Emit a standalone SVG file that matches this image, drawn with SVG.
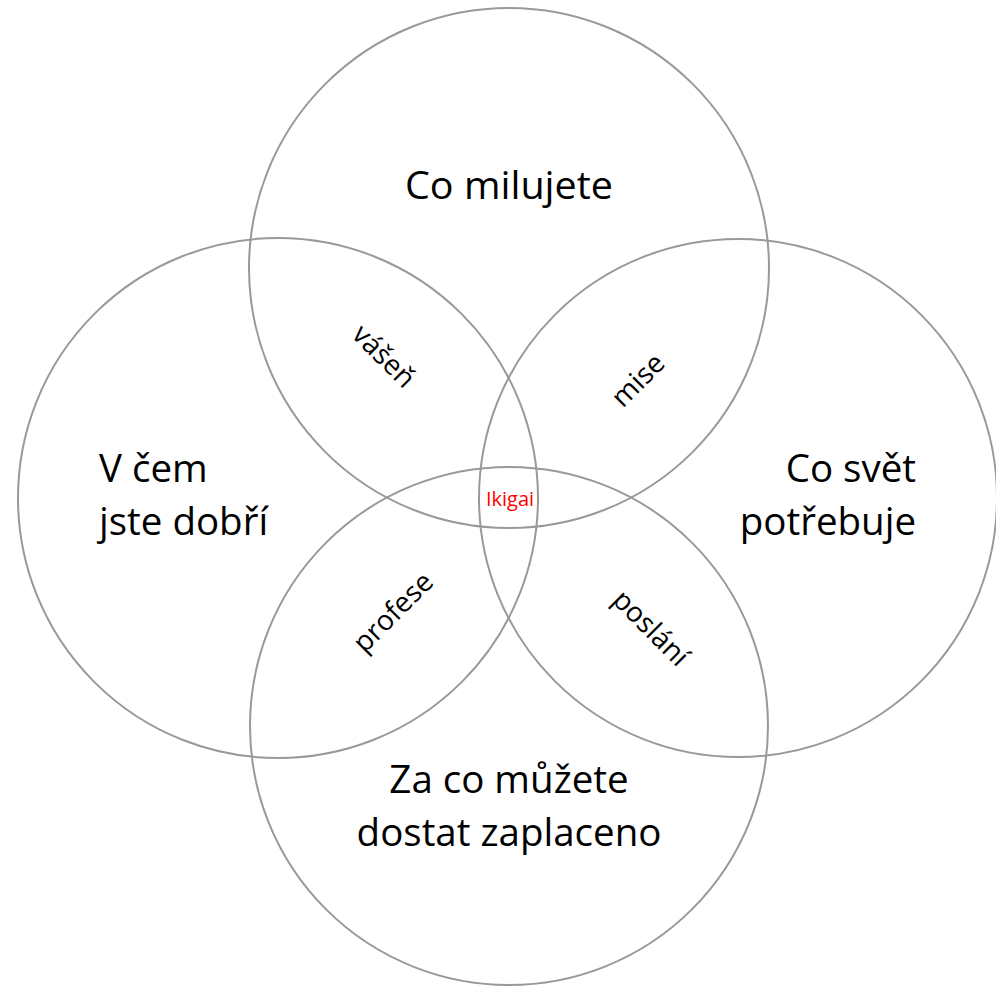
<svg xmlns="http://www.w3.org/2000/svg" width="996" height="986" viewBox="0 0 996 986">
<style>
.c{fill:none;stroke:#999;stroke-width:2}
.t{font-family:"Open Sans","Liberation Sans",sans-serif;font-size:38.5px;fill:#000}
.s{font-family:"Open Sans","Liberation Sans",sans-serif;font-size:28px;fill:#000;text-anchor:middle;dominant-baseline:central}
.r{font-family:"Open Sans","Liberation Sans",sans-serif;font-size:20px;fill:#ff0000;text-anchor:middle;dominant-baseline:central}
</style>
<rect width="996" height="986" fill="#fff"/>
<g id="circle-love">
<circle class="c" cx="509" cy="268" r="260"/>
<text class="t" x="509" y="199" text-anchor="middle" textLength="208" lengthAdjust="spacingAndGlyphs">Co milujete</text>
</g>
<g id="circle-good">
<circle class="c" cx="278" cy="498" r="260"/>
<text class="t" x="99" y="482">V čem</text>
<text class="t" x="99" y="535">jste dobří</text>
</g>
<g id="circle-world">
<circle class="c" cx="738" cy="498" r="259"/>
<text class="t" x="916" y="482" text-anchor="end">Co svět</text>
<text class="t" x="916" y="535" text-anchor="end">potřebuje</text>
</g>
<g id="circle-paid">
<circle class="c" cx="509" cy="726" r="259"/>
<text class="t" x="509" y="793" text-anchor="middle">Za co můžete</text>
<text class="t" x="509" y="846" text-anchor="middle">dostat zaplaceno</text>
</g>
<g id="labels">
<text class="s" transform="translate(385,355) rotate(45)">vášeň</text>
<text class="s" transform="translate(637,379) rotate(-45)">mise</text>
<text class="s" transform="translate(392,611) rotate(-45)">profese</text>
<text class="s" transform="translate(652,627) rotate(45)">poslání</text>
</g>
<g id="ikigai">
<text class="r" x="510" y="498">Ikigai</text>
</g>
<g id="connectors"></g>
</svg>
